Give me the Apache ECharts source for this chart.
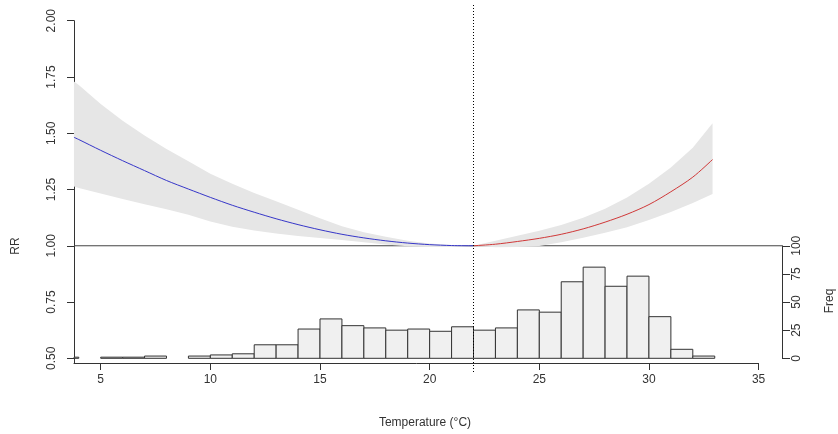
<!DOCTYPE html>
<html><head><meta charset="utf-8">
<script src="https://cdn.jsdelivr.net/npm/echarts@6/dist/echarts.min.js"></script>
<style>html,body{margin:0;padding:0;background:#fff}#c{width:838px;height:434px}</style>
</head><body><div id="c"></div>
<script>
// ---- data ----
const tempLeft   = [3.78, 4, 5, 6, 7, 8, 9, 10, 11, 12, 13, 14, 15, 16, 17, 18, 19, 20, 21, 22];
const rrLeft     = [1.482,1.472,1.424,1.378,1.334,1.290,1.252,1.215,1.180,1.149,1.120,1.094,1.071,1.051,1.035,1.022,1.012,1.005,1.001,1.000];
const upperLeft  = [1.730,1.714,1.630,1.556,1.490,1.430,1.376,1.320,1.275,1.235,1.198,1.160,1.122,1.087,1.060,1.040,1.022,1.010,1.003,1.000];
const lowerLeft  = [1.263,1.257,1.232,1.208,1.185,1.162,1.138,1.108,1.085,1.068,1.055,1.043,1.034,1.026,1.016,1.006,0.998,0.994,0.995,1.000];
const tempRight  = [22, 23, 24, 25, 26, 27, 28, 29, 30, 31, 32, 32.9];
const rrRight    = [1.000,1.007,1.019,1.033,1.051,1.075,1.105,1.140,1.183,1.240,1.305,1.383];
const upperRight = [1.000,1.022,1.045,1.067,1.092,1.125,1.165,1.215,1.275,1.348,1.435,1.544];
const lowerRight = [1.000,0.993,0.995,0.999,1.016,1.036,1.058,1.082,1.115,1.150,1.190,1.230];
const binStart   = [3, 4, 5, 6, 7, 8, 9, 10, 11, 12, 13, 14, 15, 16, 17, 18, 19, 20, 21, 22, 23, 24, 25, 26, 27, 28, 29, 30, 31, 32];
const binCount   = [1, 0, 1, 1, 2, 0, 2, 3, 4, 12, 12, 26, 35, 29, 27, 25, 26, 24, 28, 25, 27, 43, 41, 68, 81, 64, 73, 37, 8, 2];
const binWidth   = 1;
const refTemp    = 22;
const refRR      = 1;
const xTicks     = [5, 10, 15, 20, 25, 30, 35];
const rrTicks    = [0.5, 0.75, 1.0, 1.25, 1.5, 1.75, 2.0];
const freqMin = 0, freqMax = 100, freqStep = 25;
const xTitle = 'Temperature (°C)', yTitle = 'RR', y2Title = 'Freq';

// ---- layout (pixels) ----
const W = 838, H = 434;
const px5 = 100.7, px35 = 758.6;             // x pixel of 5 and 35 °C
const pyTop = 20.7, pyBot = 358.3;            // y pixel of RR 2.00 and 0.50
const pxDeg = (px35 - px5) / (xTicks[xTicks.length-1] - xTicks[0]);
const pyRR = (pyBot - pyTop) / (rrTicks[rrTicks.length-1] - rrTicks[0]);
const xAt = p => xTicks[0] + (p - px5) / pxDeg;
const yAt = p => rrTicks[0] + (pyBot - p) / pyRR;
const plotL = 74, plotR = 782, plotT = 5, plotB = 372, axisB = 363;
const histTop = pyBot - (refRR - rrTicks[0]) * pyRR;
const font = 'Liberation Sans, Arial, sans-serif';
const txt = '#333';

const grids = [
  {left: plotL, right: W - plotR, top: plotT, bottom: H - plotB},          // plot region
  {left: plotL, right: W - px35, top: pyTop, bottom: H - axisB},           // RR / temperature axes
  {left: plotL, right: W - plotR, top: histTop, bottom: H - pyBot}         // histogram
];

const chart = echarts.init(document.getElementById('c'), null, {renderer: 'canvas'});
const hidden = {show: false};

function bandItem(params, api) {
  if (params.dataIndex !== 0) return null;
  const t = tempLeft.concat(tempRight.slice(1));
  const up = upperLeft.concat(upperRight.slice(1));
  const lo = lowerLeft.concat(lowerRight.slice(1));
  const pts = [];
  for (let i = 0; i < t.length; i++) pts.push(api.coord([t[i], up[i]]));
  for (let i = t.length - 1; i >= 0; i--) pts.push(api.coord([t[i], lo[i]]));
  return {type: 'polygon', shape: {points: pts}, style: {fill: '#e6e6e6', stroke: null}};
}

function barItem(params, api) {
  const s = api.value(0), e = api.value(1), c = api.value(2);
  if (!c) return null;
  const p0 = api.coord([s, c]), p1 = api.coord([e, 0]);
  const rect = echarts.graphic.clipRectByRect(
    {x: p0[0], y: p0[1], width: p1[0] - p0[0], height: p1[1] - p0[1]},
    {x: params.coordSys.x, y: params.coordSys.y, width: params.coordSys.width, height: params.coordSys.height});
  if (!rect) return null;
  return {type: 'rect', shape: rect, style: {fill: '#f0f0f0', stroke: '#333', lineWidth: 1}};
}

const xMinPlot = xAt(plotL), xMaxPlot = xAt(plotR);

const option = {
  animation: false,
  backgroundColor: '#fff',
  grid: grids,
  xAxis: [
    Object.assign({type: 'value', gridIndex: 0, min: xMinPlot, max: xMaxPlot}, hidden),
    {type: 'value', gridIndex: 1, min: xMinPlot, max: xAt(px35), position: 'bottom',
     axisLine: {show: true, lineStyle: {color: '#333', width: 1}},
     axisTick: {show: true, length: 7, customValues: xTicks, lineStyle: {color: '#333'}},
     axisLabel: {show: true, customValues: xTicks, margin: 11, color: txt, fontSize: 12, fontFamily: font},
     splitLine: {show: false}},
    Object.assign({type: 'value', gridIndex: 2, min: xMinPlot, max: xMaxPlot}, hidden)
  ],
  yAxis: [
    Object.assign({type: 'value', gridIndex: 0, min: yAt(plotB), max: yAt(plotT)}, hidden),
    {type: 'value', gridIndex: 1, min: yAt(axisB), max: rrTicks[rrTicks.length-1], position: 'left',
     axisLine: {show: true, lineStyle: {color: '#333', width: 1}},
     axisTick: {show: true, length: 7, customValues: rrTicks, lineStyle: {color: '#333'}},
     axisLabel: {show: true, customValues: rrTicks, rotate: 90, margin: 16, color: txt, fontSize: 12, fontFamily: font,
                 formatter: v => v.toFixed(2)},
     splitLine: {show: false}},
    {type: 'value', gridIndex: 2, min: freqMin, max: freqMax, interval: freqStep, position: 'right',
     axisLine: {show: true, lineStyle: {color: '#333', width: 1}},
     axisTick: {show: true, length: 8, lineStyle: {color: '#333'}},
     axisLabel: {show: true, rotate: 90, margin: 9, color: txt, fontSize: 12, fontFamily: font},
     splitLine: {show: false}}
  ],
  series: [
    // reference line RR = 1 across the plot region (drawn under the CI band)
    {type: 'line', xAxisIndex: 0, yAxisIndex: 0, z: 1, silent: true, showSymbol: false,
     data: [[xMinPlot, refRR], [xMaxPlot, refRR]], lineStyle: {color: '#444', width: 1}},
    // histogram
    {type: 'custom', xAxisIndex: 2, yAxisIndex: 2, z: 2, silent: true,
     encode: {x: [0, 1], y: 2},
     data: binStart.map((s, i) => [s, s + binWidth, binCount[i]]),
     renderItem: barItem},
    // CI band
    {type: 'custom', xAxisIndex: 0, yAxisIndex: 0, z: 3, silent: true,
     data: [[tempLeft[0], upperLeft[0]]], renderItem: bandItem},
    // RR curves
    {type: 'line', xAxisIndex: 0, yAxisIndex: 0, z: 4, silent: true, showSymbol: false, smooth: 0.3,
     data: tempLeft.map((t, i) => [t, rrLeft[i]]), lineStyle: {color: '#3636c8', width: 1}},
    {type: 'line', xAxisIndex: 0, yAxisIndex: 0, z: 4, silent: true, showSymbol: false, smooth: 0.3,
     data: tempRight.map((t, i) => [t, rrRight[i]]), lineStyle: {color: '#d03838', width: 1}},
    // dotted vertical line at the reference temperature
    {type: 'line', xAxisIndex: 0, yAxisIndex: 0, z: 5, silent: true, data: [],
     markLine: {silent: true, symbol: 'none', label: {show: false}, animation: false,
       data: [{xAxis: refTemp, lineStyle: {color: '#000', width: 1, type: [1, 2]}}]}}
  ],
  graphic: [
    {type: 'text', x: 16, y: 246, rotation: Math.PI / 2,
     style: {text: yTitle, fill: txt, font: '12px ' + font, align: 'center', verticalAlign: 'middle'}},
    {type: 'text', x: 425, y: 423,
     style: {text: xTitle, fill: txt, font: '12px ' + font, align: 'center', verticalAlign: 'middle'}},
    {type: 'text', x: 830, y: 301, rotation: Math.PI / 2,
     style: {text: y2Title, fill: txt, font: '12px ' + font, align: 'center', verticalAlign: 'middle'}}
  ]
};
chart.setOption(option);
</script>
</body></html>
